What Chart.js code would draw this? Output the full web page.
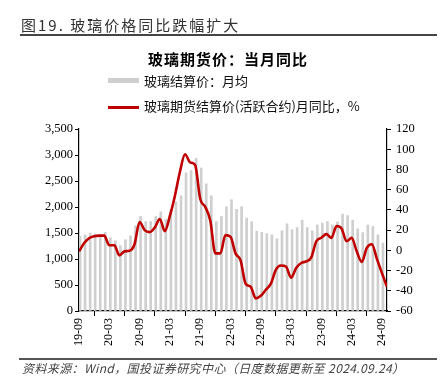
<!DOCTYPE html>
<html><head><meta charset="utf-8">
<script src="https://cdn.jsdelivr.net/npm/chart.js@4.4.1/dist/chart.umd.min.js"></script>
<style>
html,body{margin:0;padding:0;background:#fff;}
body{width:443px;height:383px;position:relative;overflow:hidden;font-family:"Noto Sans CJK SC",sans-serif;}
#wrap{position:absolute;left:0;top:0;width:443px;height:383px;}
.t{position:absolute;white-space:nowrap;line-height:1;}
</style></head><body>
<div id="wrap"><canvas id="c" width="443" height="383"></canvas></div>
<div class="t" style="left:21px;top:17px;font-size:15px;letter-spacing:2px;color:#333;">图19. 玻璃价格同比跌幅扩大</div>
<div style="position:absolute;left:20px;top:34px;width:417px;height:2px;background:#444;"></div>
<div class="t" style="left:148px;top:51px;font-size:15px;font-weight:bold;letter-spacing:1px;color:#000;">玻璃期货价：当月同比</div>
<div style="position:absolute;left:108px;top:78px;width:31px;height:5px;background:#cfcfcf;"></div>
<div class="t" style="left:144px;top:74px;font-size:13px;color:#111;">玻璃结算价：月均</div>
<div style="position:absolute;left:108px;top:106px;width:31px;height:3px;background:#c00000;"></div>
<div class="t" style="left:144px;top:99px;font-size:13px;color:#111;">玻璃期货结算价(活跃合约)月同比，%</div>
<div style="position:absolute;left:19px;top:358px;width:418px;height:2px;background:#555;"></div>
<div class="t" style="left:22px;top:362px;font-size:12px;font-style:italic;color:#444;letter-spacing:0.4px;">资料来源：Wind，国投证券研究中心（日度数据更新至 2024.09.24）</div>
<script>
// Month index 0 = 2019-09
const tickLabels = ['19-09','20-03','20-09','21-03','21-09','22-03','22-09','23-03','23-09','24-03','24-09'];
// 玻璃结算价：月均 (monthly, 2019-09 .. 2024-09)
const barValues = [1440,1465,1500,1480,1465,1515,1410,1350,1255,1370,
  1445,1640,1818,1720,1720,1818,1905,1760,1950,2100,
  2217,2655,2700,2935,2750,2445,2215,1722,1818,2005,
  2140,1955,2005,1787,1720,1535,1513,1488,1465,1388,
  1542,1677,1562,1606,1748,1606,1542,1655,1690,1720,
  1655,1713,1864,1835,1748,1581,1508,1655,1626,1465,1305];
// 玻璃期货结算价(活跃合约)月同比，% (month index 0 .. 61)
const lineValues = [-1,7,12,14,14.5,14.5,5,5,-5,-1,
  -0.5,6,28,20,18,22.5,31,19,34,54,
  78,95,87,84.5,51,43,29.5,-3,-3,15,
  13.5,-3,-10,-33,-36,-47.5,-45,-39,-33,-19,
  -15,-16,-27,-17.5,-12.5,-11,-7,9,12.5,16,
  12.3,24,21.5,9,12.3,-1,-11.5,2.4,6,-8.5,-22.5,-36];

const barPts = barValues.map((v,i)=>({x:i+0.2,y:v}));
const linePts = lineValues.map((v,i)=>({x:i,y:v}));
const serif = "'Liberation Serif','Times New Roman',serif";

new Chart(document.getElementById('c'), {
  data: {
    datasets: [
      {type:'line', label:'同比', data:linePts, yAxisID:'yR', borderColor:'#c00000', borderWidth:2.6,
       pointRadius:0, tension:0.4, cubicInterpolationMode:'monotone', order:1},
      {type:'bar', label:'月均', data:barPts, yAxisID:'yL', backgroundColor:'#cfcfcf',
       barThickness:2, order:2}
    ]
  },
  options: {
    responsive:false, animation:false, devicePixelRatio:1,
    layout:{padding:{top:129, bottom:30, left:0, right:0}},
    plugins:{legend:{display:false}, tooltip:{enabled:false}},
    scales:{
      x:{type:'linear', min:0, max:61, offset:false,
         afterFit:(s)=>{s.height=42;},
         border:{display:true,color:'#000',width:1.2},
         grid:{display:true, drawOnChartArea:false, drawTicks:true, tickLength:5, color:'#000'},
         ticks:{stepSize:6, includeBounds:false, autoSkip:false, minRotation:90, maxRotation:90,
           color:'#000', font:{family:serif,size:12}, padding:2,
           callback:(v)=>{const k=Math.round(v/6); return (v%6===0 && tickLabels[k])?tickLabels[k]:'';}}},
      yL:{position:'left', min:0, max:3500,
         afterFit:(s)=>{s.width=79;},
         border:{display:true,color:'#000',width:1.2},
         grid:{display:true, drawOnChartArea:false, tickLength:4, color:'#000'},
         ticks:{stepSize:500, color:'#000', font:{family:serif,size:12.5}, padding:2,
           callback:(v)=>v.toLocaleString('en-US')}},
      yR:{position:'right', min:-60, max:120,
         afterFit:(s)=>{s.width=56;},
         border:{display:true,color:'#000',width:1.2},
         grid:{display:true, drawOnChartArea:false, tickLength:4, color:'#000'},
         ticks:{stepSize:20, color:'#000', font:{family:serif,size:12.5}, padding:5}}
    }
  }
});
</script>
</body></html>
